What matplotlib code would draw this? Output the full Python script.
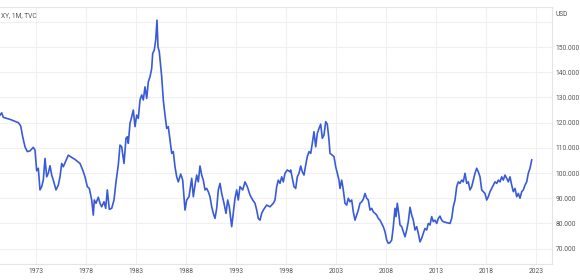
import matplotlib
matplotlib.use("Agg")
import matplotlib.pyplot as plt

years = [
    1969.40, 1969.57, 1969.73, 1970.40, 1971.23, 1971.47, 1971.67, 1971.90, 1972.13, 1972.40,
    1972.73, 1972.90, 1973.07, 1973.23, 1973.40, 1973.57, 1973.73, 1973.90, 1974.07, 1974.23,
    1974.40, 1974.57, 1974.73, 1975.00, 1975.23, 1975.40, 1975.57, 1975.73, 1975.90, 1976.23,
    1976.57, 1976.90, 1977.40, 1977.67, 1977.90, 1978.13, 1978.33, 1978.57, 1978.73, 1978.83,
    1979.00, 1979.23, 1979.40, 1979.57, 1979.80, 1979.97, 1980.13, 1980.33, 1980.57, 1980.80,
    1981.00, 1981.23, 1981.40, 1981.57, 1981.80, 1982.00, 1982.13, 1982.23, 1982.40, 1982.57,
    1982.73, 1982.90, 1983.07, 1983.23, 1983.40, 1983.57, 1983.73, 1983.90, 1984.07, 1984.23,
    1984.40, 1984.57, 1984.67, 1984.83, 1984.97, 1985.10, 1985.20, 1985.33, 1985.57, 1985.73,
    1985.90, 1986.07, 1986.23, 1986.40, 1986.57, 1986.73, 1986.90, 1987.07, 1987.23, 1987.47,
    1987.67, 1987.90, 1988.07, 1988.30, 1988.57, 1988.73, 1988.90, 1989.07, 1989.23, 1989.40,
    1989.57, 1989.73, 1989.90, 1990.07, 1990.23, 1990.40, 1990.57, 1990.73, 1990.90, 1991.07,
    1991.23, 1991.40, 1991.57, 1991.80, 1992.00, 1992.17, 1992.33, 1992.57, 1992.73, 1992.90,
    1993.07, 1993.23, 1993.40, 1993.67, 1993.90, 1994.13, 1994.40, 1994.67, 1994.90, 1995.07,
    1995.23, 1995.40, 1995.57, 1995.73, 1996.07, 1996.40, 1996.73, 1996.90, 1997.07, 1997.23,
    1997.40, 1997.57, 1997.73, 1997.90, 1998.13, 1998.40, 1998.47, 1998.67, 1998.80, 1998.97,
    1999.13, 1999.30, 1999.47, 1999.63, 1999.80, 1999.97, 2000.13, 2000.30, 2000.47, 2000.63,
    2000.80, 2000.97, 2001.13, 2001.30, 2001.47, 2001.63, 2001.80, 2001.97, 2002.13, 2002.30,
    2002.40, 2002.63, 2002.80, 2002.97, 2003.13, 2003.30, 2003.40, 2003.57, 2003.73, 2003.90,
    2004.07, 2004.23, 2004.40, 2004.57, 2004.73, 2004.90, 2005.07, 2005.23, 2005.40, 2005.57,
    2005.73, 2005.90, 2006.07, 2006.23, 2006.40, 2006.57, 2006.73, 2006.90, 2007.07, 2007.23,
    2007.40, 2007.57, 2007.73, 2007.90, 2008.07, 2008.23, 2008.40, 2008.57, 2008.73, 2008.90,
    2009.00, 2009.13, 2009.27, 2009.40, 2009.57, 2009.73, 2009.90, 2010.07, 2010.23, 2010.40,
    2010.57, 2010.73, 2010.90, 2011.07, 2011.23, 2011.40, 2011.57, 2011.73, 2011.90, 2012.07,
    2012.23, 2012.40, 2012.57, 2012.73, 2012.90, 2013.07, 2013.23, 2013.40, 2013.57, 2013.73,
    2014.07, 2014.40, 2014.57, 2014.73, 2014.90, 2015.07, 2015.23, 2015.40, 2015.57, 2015.73,
    2015.90, 2016.07, 2016.23, 2016.40, 2016.57, 2016.73, 2016.90, 2017.07, 2017.23, 2017.40,
    2017.57, 2017.73, 2017.90, 2018.07, 2018.23, 2018.40, 2018.57, 2018.73, 2018.90, 2019.07,
    2019.23, 2019.40, 2019.57, 2019.73, 2019.90, 2020.07, 2020.23, 2020.40, 2020.57, 2020.73,
    2020.90, 2021.07, 2021.23, 2021.40, 2021.57, 2021.73, 2021.90, 2022.07, 2022.23, 2022.40,
    2022.57,
]

dxy = [
    123.0, 123.9, 122.1, 121.3, 120.0, 118.7, 114.4, 110.4, 108.5, 108.8,
    110.2, 109.1, 100.9, 101.9, 93.3, 94.6, 97.2, 105.8, 98.5, 99.9,
    102.9, 99.2, 97.2, 93.3, 95.2, 98.5, 103.8, 102.5, 104.1, 107.1,
    106.2, 105.4, 103.8, 101.2, 98.5, 94.6, 93.9, 89.3, 83.3, 89.3,
    88.0, 90.4, 88.0, 86.6, 88.6, 86.0, 93.3, 85.6, 86.0, 89.3,
    96.5, 103.2, 111.1, 110.4, 103.8, 113.8, 114.4, 111.8, 119.7, 122.3,
    125.0, 118.4, 123.0, 121.7, 129.0, 131.0, 129.0, 134.2, 129.6, 136.2,
    138.2, 141.5, 147.5, 148.8, 152.8, 160.7, 150.1, 148.1, 138.2, 129.0,
    123.0, 117.7, 118.4, 113.1, 107.8, 108.5, 102.5, 98.5, 96.5, 99.6,
    97.2, 85.3, 89.3, 90.6, 97.9, 90.6, 95.2, 99.2, 96.5, 102.8,
    99.2, 97.2, 93.3, 93.9, 92.6, 90.6, 86.6, 84.0, 82.0, 86.0,
    93.3, 95.9, 91.9, 88.0, 84.0, 89.3, 86.6, 78.7, 84.0, 90.0,
    93.3, 89.3, 94.6, 93.3, 96.5, 94.6, 91.3, 89.3, 88.0, 85.3,
    82.0, 81.3, 84.0, 85.3, 87.3, 86.6, 88.0, 89.3, 94.6, 97.2,
    95.9, 98.5, 96.5, 99.9, 101.2, 100.5, 101.2, 97.2, 94.6, 93.9,
    98.5, 99.9, 102.8, 100.5, 99.2, 103.2, 106.5, 108.5, 107.8, 111.8,
    116.4, 110.4, 115.7, 117.7, 119.4, 113.8, 115.1, 120.4, 119.4, 113.1,
    107.8, 107.1, 106.5, 102.5, 99.9, 97.2, 93.9, 97.2, 93.3, 88.0,
    87.3, 90.0, 88.6, 89.3, 84.6, 81.3, 83.3, 85.3, 88.0, 88.6,
    89.6, 91.9, 90.0, 89.3, 85.3, 86.0, 84.6, 84.0, 83.3, 82.0,
    81.3, 80.0, 78.7, 76.7, 73.4, 72.1, 72.4, 73.4, 78.7, 86.0,
    82.7, 88.0, 84.0, 79.4, 78.7, 76.7, 74.7, 77.4, 80.7, 86.4,
    83.3, 81.3, 77.4, 78.7, 76.1, 72.7, 74.1, 76.1, 78.0, 77.4,
    80.0, 79.4, 82.7, 80.7, 81.3, 80.0, 82.0, 82.9, 81.3, 80.7,
    80.3, 80.0, 82.0, 86.6, 89.3, 94.6, 96.5, 95.9, 97.2, 96.5,
    99.9, 95.9, 96.5, 93.3, 94.6, 97.2, 99.9, 101.9, 100.5, 98.5,
    93.3, 92.6, 91.9, 89.3, 90.6, 92.6, 93.9, 95.2, 96.5, 95.9,
    97.2, 96.5, 98.5, 97.2, 99.2, 97.9, 96.5, 98.5, 95.2, 92.6,
    93.9, 90.6, 91.9, 90.0, 92.6, 93.3, 95.2, 96.5, 99.9, 101.9,
    105.2,
]

x_tick_years = [1973, 1978, 1983, 1988, 1993, 1998, 2003, 2008, 2013, 2018, 2023]
y_ticks = [70, 80, 90, 100, 110, 120, 130, 140, 150]
y_grid = [70, 80, 90, 100, 110, 120, 130, 140, 150, 160]

plt.rcParams["font.family"] = ["Roboto", "DejaVu Sans"]

W, H = 580, 280
fig = plt.figure(figsize=(W / 100, H / 100), dpi=100)
fig.patch.set_facecolor("white")
ax = fig.add_axes([0, 16 / H, 552 / W, (264 - 7) / H])

ax.plot(years, dxy, color="#3a5bd9", lw=1.2, solid_joinstyle="round", zorder=3)

ax.set_xlim(1969.4, 2024.6)
ax.set_ylim(63.9, 165.9)

for v in y_grid:
    ax.axhline(v, color="#f0f0f0", lw=0.8, zorder=0)
for yr in x_tick_years:
    ax.axvline(yr, color="#f0f0f0", lw=0.8, zorder=0)

ax.set_xticks(x_tick_years)
ax.set_xticklabels([str(y) for y in x_tick_years], fontsize=4.8, color="#555555")
ax.set_yticks(y_ticks)
ax.set_yticklabels([f"{v:.3f}" for v in y_ticks], fontsize=4.8, color="#555555")
ax.yaxis.tick_right()
ax.tick_params(axis="both", length=0)
ax.tick_params(axis="x", pad=3)
ax.tick_params(axis="y", pad=2.5)

ax.spines["left"].set_visible(False)
for side in ["top", "right", "bottom"]:
    ax.spines[side].set_color("#e4e4e4")
    ax.spines[side].set_linewidth(0.8)

fig.text(1 / W, 1 - 16 / H, "XY, 1M, TVC", ha="left", va="center",
         fontsize=4.8, color="#555555")
fig.text(556 / W, 1 - 15 / H, "USD", ha="left", va="center",
         fontsize=4.8, color="#555555")

fig.savefig("out.png", dpi=100, facecolor="white")
